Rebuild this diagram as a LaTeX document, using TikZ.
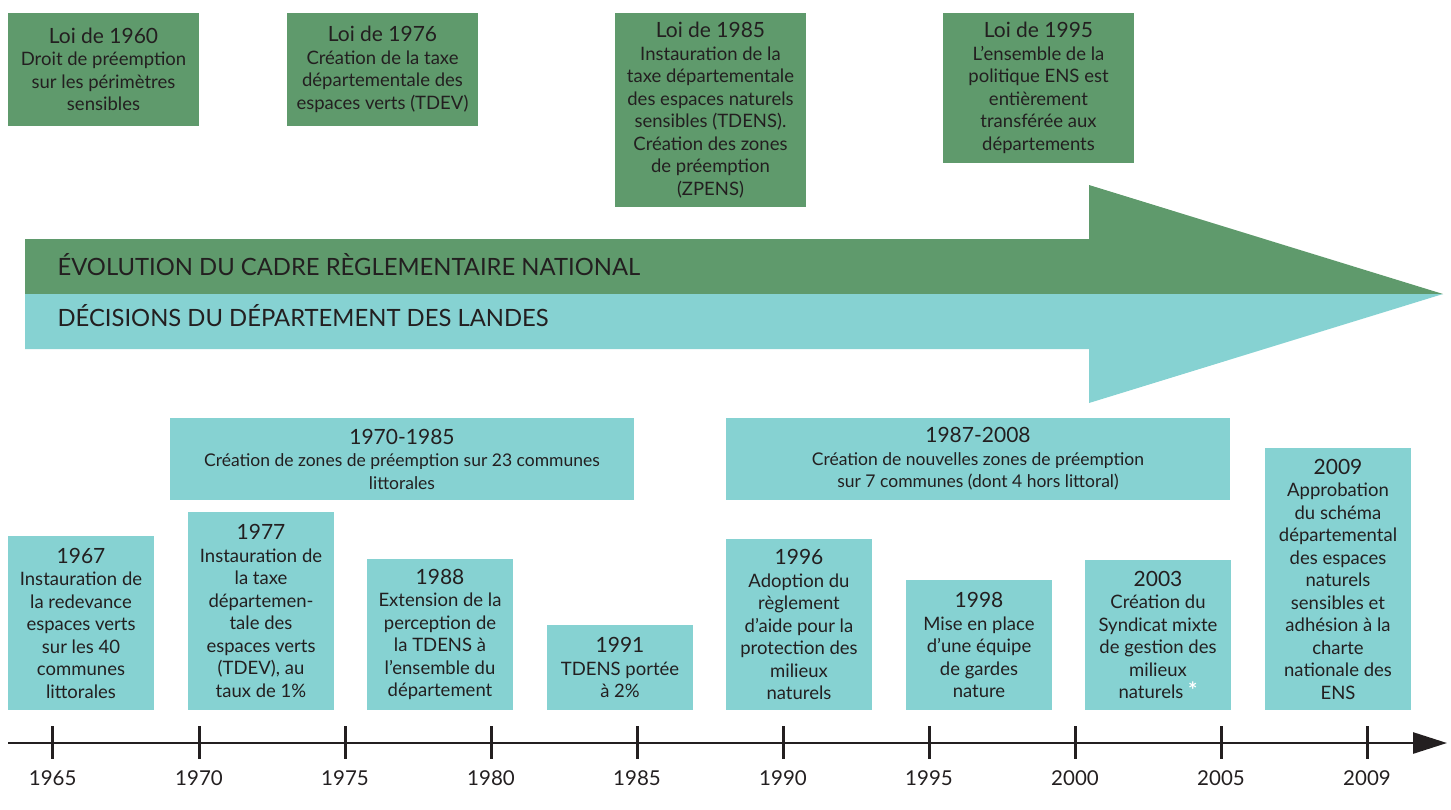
\documentclass[tikz,border=0pt]{standalone}
\usepackage{fontspec}
\setmainfont{Lato}
\usetikzlibrary{arrows.meta}
\definecolor{vert}{HTML}{5F9A6C}
\definecolor{cyanb}{HTML}{86D2D2}
\definecolor{ink}{HTML}{231F20}
\newcommand{\hd}[1]{{\fontsize{21}{22.5}\selectfont #1}}
\begin{document}
\begin{tikzpicture}[x=1pt,y=-1pt,
  box/.style={draw=none, inner sep=0pt, text=ink, align=center, font=\fontsize{18.5}{22.5}\selectfont},
  loi/.style={box, fill=vert, minimum width=191},
  dec/.style={box, fill=cyanb, minimum width=146},
  per/.style={box, fill=cyanb, font=\fontsize{17.5}{22.5}\selectfont},
  band/.style={anchor=base west, text=ink, font=\fontsize{23.8}{26}\selectfont},
  axis/.style={line width=2.7pt, draw=ink, -{Triangle[length=34pt,width=21pt]}},
  tick/.style={line width=3pt, draw=ink},
  yr/.style={anchor=base, text=ink, font=\fontsize{20.5}{22}\selectfont}
]
\useasboundingbox (0,0) rectangle (1451,809);

% top boxes (national law)
\node[loi, minimum height=113] (l60) at (103.5,69.5) {\hd{Loi de 1960}\\Droit de préemption\\sur les périmètres\\sensibles};
\node[loi, minimum height=113] (l76) at (382.5,69.5) {\hd{Loi de 1976}\\Création de la taxe\\départementale des\\espaces verts (TDEV)};
\node[loi, minimum height=194] (l85) at (710.5,110) {\hd{Loi de 1985}\\Instauration de la\\taxe départementale\\des espaces naturels\\sensibles (TDENS).\\Création des zones\\de préemption\\(ZPENS)};
\node[loi, minimum height=150] (l95) at (1038.5,88) {\hd{Loi de 1995}\\L'ensemble de la\\politique ENS est\\entièrement\\transférée aux\\départements};

% big double arrow
\fill[vert] (25,239) -- (1089,239) -- (1089,185) -- (1443,294) -- (25,294) -- cycle;
\fill[cyanb] (25,294) -- (1443,294) -- (1089,403) -- (1089,349) -- (25,349) -- cycle;
\node[band] (tnat) at (54,275) {ÉVOLUTION DU CADRE RÈGLEMENTAIRE NATIONAL};
\node[band] (tdep) at (54,326) {DÉCISIONS DU DÉPARTEMENT DES LANDES};

% period boxes
\node[per, minimum width=464, minimum height=82] (p1) at (402,459) {\hd{1970-1985}\\Création de zones de préemption sur 23 communes\\littorales};
\node[per, minimum width=504, minimum height=82] (p2) at (978,459) {\hd{1987-2008}\\Création de nouvelles zones de préemption\\sur 7 communes (dont 4 hors littoral)};

% decision boxes
\node[dec, minimum height=174] (d67) at (81,623) {\hd{1967}\\Instauration de\\la redevance\\espaces verts\\sur les 40\\communes\\littorales};
\node[dec, minimum height=198] (d77) at (261,611) {\hd{1977}\\Instauration de\\la taxe\\départemen-\\tale des\\espaces verts\\(TDEV), au\\taux de 1\%};
\node[dec, minimum height=151] (d88) at (440,634.5) {\hd{1988}\\Extension de la\\perception de\\la TDENS à\\l'ensemble du\\département};
\node[dec, minimum height=85] (d91) at (620,667.5) {\hd{1991}\\TDENS portée\\à 2\%};
\node[dec, minimum height=171] (d96) at (799,624.5) {\hd{1996}\\Adoption du\\règlement\\d'aide pour la\\protection des\\milieux\\naturels};
\node[dec, minimum height=130] (d98) at (979,645) {\hd{1998}\\Mise en place\\d'une équipe\\de gardes\\nature};
\node[dec, minimum height=150] (d03) at (1158,635) {\hd{2003}\\Création du\\Syndicat mixte\\de gestion des\\milieux\\naturels \textcolor{white}{\fontsize{22}{22.5}\selectfont\textbf{*}}};
\node[dec, minimum height=262] (d09) at (1338,579) {\hd{2009}\\Approbation\\du schéma\\départemental\\des espaces\\naturels\\sensibles et\\adhésion à la\\charte\\nationale des\\ENS};

% time axis
\coordinate (a0) at (8,743);
\coordinate (a1) at (1447,743);
\draw[axis] (a0) -- (a1);
\foreach \x/\lab in {52.7/1965,199/1970,345/1975,491/1980,637/1985,783/1990,929/1995,1075/2000,1221/2005,1367/2009}{
  \coordinate (tt\lab) at (\x,726);
  \coordinate (tb\lab) at (\x,759);
  \draw[tick] (tt\lab) -- (tb\lab);
  \node[yr] (y\lab) at (\x,785) {\lab};
}
\end{tikzpicture}
\end{document}
